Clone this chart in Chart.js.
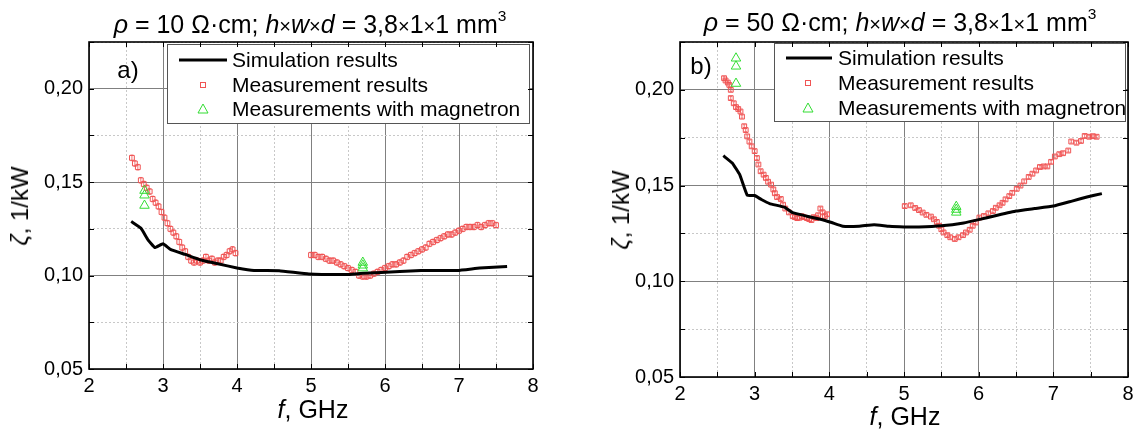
<!DOCTYPE html>
<html>
<head>
<meta charset="utf-8">
<script src="https://cdn.jsdelivr.net/npm/chart.js@4.4.0/dist/chart.umd.min.js"></script>
<style>
  html, body { margin: 0; padding: 0; background: #fff; }
  body {
    width: 1142px; height: 434px; position: relative; overflow: hidden;
    font-family: "Liberation Sans", Arial, sans-serif; color: #000;
  }
  canvas { position: absolute; top: 0; }
  .txt { position: absolute; white-space: nowrap; transform: translate(-50%, -50%); line-height: 1; }
  .title { font-size: 25px; }
  .title .tm { font-size: 0.8em; }
  .title sup { font-size: 0.62em; position: relative; top: -0.2em; }
  .xtitle { font-size: 25px; }
  .ytitle { font-size: 24px; transform: translate(-50%, -50%) rotate(-90deg); }
  .tag { font-size: 24px; }
</style>
</head>
<body>
<canvas id="chartA" width="571" height="434" style="left:0"></canvas>
<canvas id="chartB" width="571" height="434" style="left:571px"></canvas>

<div class="txt title" style="left:310px; top:24px"><i>ρ</i> = 10 Ω·cm; <i>h</i><span class="tm">×</span><i>w</i><span class="tm">×</span><i>d</i> = 3,8<span class="tm">×</span>1<span class="tm">×</span>1 mm<sup>3</sup></div>
<div class="txt title" style="left:900px; top:22px"><i>ρ</i> = 50 Ω·cm; <i>h</i><span class="tm">×</span><i>w</i><span class="tm">×</span><i>d</i> = 3,8<span class="tm">×</span>1<span class="tm">×</span>1 mm<sup>3</sup></div>
<div class="txt xtitle" style="left:313px; top:409px"><i>f</i>, GHz</div>
<div class="txt xtitle" style="left:905px; top:416px"><i>f</i>, GHz</div>
<div class="txt ytitle" style="left:20px; top:206px"><i>ζ</i>, 1/kW</div>
<div class="txt ytitle" style="left:621px; top:210px"><i>ζ</i>, 1/kW</div>
<div class="txt tag" style="left:128px; top:70px">a)</div>
<div class="txt tag" style="left:701px; top:66px">b)</div>

<script>
// tick labels
const X_LABELS = [2, 3, 4, 5, 6, 7, 8];
const Y_LABELS = [0.05, 0.10, 0.15, 0.20];

const SERIES_NAMES = ["Simulation results", "Measurement results", "Measurements with magnetron"];

// ---- panel a) rho = 10 Ohm*cm ----
const simFreqA = [2.57, 2.70, 2.80, 2.89, 3.00, 3.10, 3.30, 3.50, 3.74, 4.00, 4.23, 4.57, 4.97, 5.51, 5.70, 6.20, 6.49, 6.98, 7.28, 7.65];
const simZetaA = [0.129, 0.1254, 0.119, 0.115, 0.117, 0.114, 0.1113, 0.1085, 0.1063, 0.1041, 0.1027, 0.1026, 0.1009, 0.1006, 0.1012, 0.1022, 0.1027, 0.1027, 0.104, 0.1049];

const measFreqA = [
  2.58, 2.62, 2.66, 2.70, 2.74, 2.78, 2.82, 2.86, 2.90, 2.94, 2.98, 3.02, 3.06, 3.10, 3.14, 3.18, 3.22, 3.26,
  3.30, 3.34, 3.38, 3.42, 3.46, 3.50, 3.54, 3.58, 3.62, 3.66, 3.70, 3.74, 3.78, 3.82, 3.86, 3.90, 3.94, 3.98,
  5.00, 5.05, 5.10, 5.15, 5.20, 5.25, 5.30, 5.35, 5.40, 5.45, 5.50, 5.55, 5.60, 5.65, 5.70, 5.75, 5.80,
  5.85, 5.90, 5.95, 6.00, 6.05, 6.10, 6.15, 6.20, 6.25, 6.30, 6.35, 6.40, 6.45, 6.50, 6.55, 6.60, 6.65,
  6.70, 6.75, 6.80, 6.85, 6.90, 6.95, 7.00, 7.05, 7.10, 7.15, 7.20, 7.25, 7.30, 7.35, 7.40, 7.45, 7.50
];
const measZetaA = [
  0.163, 0.160, 0.158, 0.151, 0.149, 0.147, 0.145, 0.141, 0.139, 0.137, 0.134, 0.131, 0.128, 0.125, 0.123, 0.121, 0.118, 0.115,
  0.113, 0.110, 0.108, 0.107, 0.108, 0.107, 0.108, 0.110, 0.108, 0.109, 0.107, 0.108, 0.108, 0.110, 0.111, 0.113, 0.114, 0.112,
  0.111, 0.111, 0.110, 0.110, 0.109, 0.108, 0.108, 0.107, 0.106, 0.105, 0.104, 0.103, 0.102, 0.100, 0.0995, 0.0995, 0.100,
  0.101, 0.102, 0.103, 0.104, 0.105, 0.106, 0.106, 0.107, 0.108, 0.110, 0.111, 0.112, 0.113, 0.114, 0.115, 0.117, 0.118,
  0.119, 0.120, 0.121, 0.122, 0.122, 0.123, 0.124, 0.125, 0.126, 0.126, 0.126, 0.127, 0.126, 0.127, 0.128, 0.128, 0.127
];
const magFreqA = [2.75, 2.75, 2.75, 5.70, 5.70, 5.70];
const magZetaA = [0.1455, 0.1430, 0.1375, 0.1040, 0.1055, 0.1070];

// ---- panel b) rho = 50 Ohm*cm ----
const simFreqB = [2.58, 2.70, 2.80, 2.90, 3.00, 3.09, 3.20, 3.40, 3.50, 3.70, 3.88, 4.03, 4.18, 4.40, 4.60, 4.80, 5.00, 5.20, 5.50, 5.80, 6.00, 6.25, 6.50, 6.75, 7.00, 7.25, 7.45, 7.65];
const simZetaB = [0.1656, 0.1618, 0.1557, 0.1450, 0.1448, 0.1427, 0.1406, 0.1387, 0.1360, 0.1340, 0.1324, 0.1307, 0.1288, 0.1288, 0.1295, 0.1287, 0.1284, 0.1284, 0.1290, 0.1305, 0.1322, 0.1345, 0.1367, 0.1380, 0.1393, 0.1419, 0.1440, 0.1458];

const measFreqB = [
  2.59, 2.61, 2.64, 2.66, 2.68, 2.68, 2.72, 2.75, 2.78, 2.81, 2.83, 2.86, 2.88, 2.90, 2.93, 2.96, 3.00, 3.03, 3.05,
  3.08, 3.12, 3.15, 3.18, 3.22, 3.25, 3.27, 3.30, 3.35, 3.38, 3.41, 3.46, 3.51, 3.54, 3.57, 3.60, 3.63, 3.66, 3.70,
  3.73, 3.76, 3.79, 3.83, 3.85, 3.88, 3.91, 3.94, 3.97,
  5.01, 5.09, 5.15, 5.20, 5.25, 5.30, 5.36, 5.40, 5.44, 5.47, 5.50, 5.53, 5.58, 5.62, 5.68, 5.73, 5.79, 5.83,
  5.88, 5.92, 5.96, 6.01, 6.07, 6.13, 6.19, 6.23, 6.28, 6.32, 6.36, 6.41, 6.45, 6.51, 6.56, 6.61, 6.67, 6.72,
  6.77, 6.82, 6.87, 6.92, 6.97, 7.02, 7.08, 7.13, 7.20, 7.24, 7.31, 7.37, 7.42, 7.48, 7.53, 7.58
];
const measZetaB = [
  0.2061, 0.2049, 0.2038, 0.2026, 0.2000, 0.1957, 0.1930, 0.1910, 0.1900, 0.1887, 0.1860, 0.1810, 0.1790, 0.1757, 0.1730, 0.1705, 0.1680, 0.1644, 0.1610,
  0.1575, 0.1557, 0.1540, 0.1520, 0.1505, 0.1480, 0.1460, 0.1440, 0.1430, 0.1400, 0.1380, 0.1360, 0.1340, 0.1335, 0.1330, 0.1332, 0.1340, 0.1335, 0.1330,
  0.1325, 0.1320, 0.1335, 0.1330, 0.1345, 0.1380, 0.1360, 0.1340, 0.1350,
  0.1393, 0.1397, 0.1383, 0.1372, 0.1359, 0.1347, 0.1338, 0.1324, 0.1310, 0.1290, 0.1272, 0.1255, 0.1241, 0.1230, 0.1221, 0.1230, 0.1241, 0.1255,
  0.1269, 0.1290, 0.1307, 0.1333, 0.1341, 0.1355, 0.1367, 0.1384, 0.1397, 0.1410, 0.1428, 0.1445, 0.1462, 0.1483, 0.1500, 0.1522, 0.1545, 0.1562,
  0.1579, 0.1597, 0.1600, 0.1600, 0.1624, 0.1652, 0.1664, 0.1669, 0.1683, 0.1730, 0.1724, 0.1733, 0.1759, 0.1755, 0.1758, 0.1755
];
const magFreqB = [2.75, 2.75, 2.75, 5.70, 5.70, 5.70];
const magZetaB = [0.2165, 0.2123, 0.2033, 0.1390, 0.1375, 0.1360];

// error bar half-heights of measured points
const ERR_A = 0.0015;
const ERR_B = 0.0008;

const RED = "#f05454";
const GREEN = "#33dd33";
const FONT = "'Liberation Sans', Arial, sans-serif";

function pts(xs, ys) {
  return xs.map((x, i) => ({ x, y: ys[i] }));
}

function isLabel(list, v) {
  return list.some(l => Math.abs(l - v) < 1e-6);
}

// frame + inward tick marks on all four sides
const framePlugin = {
  id: "frame",
  afterDraw(chart) {
    const { ctx, chartArea: a, scales } = chart;
    ctx.save();
    ctx.strokeStyle = "#000";
    ctx.lineWidth = 1;
    ctx.beginPath();
    scales.x.ticks.forEach(t => {
      const px = Math.round(scales.x.getPixelForValue(t.value)) + 0.5;
      ctx.moveTo(px, a.bottom); ctx.lineTo(px, a.bottom - 5);
      ctx.moveTo(px, a.top); ctx.lineTo(px, a.top + 5);
    });
    scales.y.ticks.forEach(t => {
      const py = Math.round(scales.y.getPixelForValue(t.value)) + 0.5;
      ctx.moveTo(a.left, py); ctx.lineTo(a.left + 5, py);
      ctx.moveTo(a.right, py); ctx.lineTo(a.right - 5, py);
    });
    ctx.stroke();
    ctx.lineWidth = 1.6;
    ctx.strokeRect(a.left, a.top, a.right - a.left, a.bottom - a.top);
    ctx.restore();
  }
};

// vertical error bars on the measured points
const errorBarPlugin = {
  id: "errbars",
  afterDatasetDraw(chart, args) {
    const ds = chart.data.datasets[args.index];
    if (!ds.errorBar) return;
    const { ctx } = chart;
    const y = chart.scales.y;
    ctx.save();
    ctx.strokeStyle = ds.borderColor;
    ctx.lineWidth = 0.8;
    ctx.beginPath();
    args.meta.data.forEach((el, i) => {
      const v = ds.data[i].y;
      const top = y.getPixelForValue(v + ds.errorBar);
      const bot = y.getPixelForValue(v - ds.errorBar);
      ctx.moveTo(el.x, top); ctx.lineTo(el.x, bot);
      ctx.moveTo(el.x - 1.5, top); ctx.lineTo(el.x + 1.5, top);
      ctx.moveTo(el.x - 1.5, bot); ctx.lineTo(el.x + 1.5, bot);
    });
    ctx.stroke();
    ctx.restore();
  }
};

// framed legend inside the plot
const boxLegendPlugin = {
  id: "boxLegend",
  afterDraw(chart, args, o) {
    const { ctx } = chart;
    ctx.save();
    ctx.fillStyle = "#fff";
    ctx.fillRect(o.x, o.y, o.w, o.h);
    ctx.strokeStyle = "#555";
    ctx.lineWidth = 1;
    ctx.strokeRect(o.x + 0.5, o.y + 0.5, o.w, o.h);
    ctx.font = "21px " + FONT;
    ctx.textBaseline = "middle";
    SERIES_NAMES.forEach((name, i) => {
      const cy = o.y + o.rows[i];
      const mx = o.x + o.marker;
      if (i === 0) {
        ctx.strokeStyle = "#000";
        ctx.lineWidth = 3;
        ctx.beginPath();
        ctx.moveTo(o.x + o.line[0], cy); ctx.lineTo(o.x + o.line[1], cy);
        ctx.stroke();
      } else if (i === 1) {
        ctx.strokeStyle = RED;
        ctx.lineWidth = 1;
        ctx.strokeRect(mx - 2.5, cy - 2.5, 5, 5);
      } else {
        ctx.strokeStyle = GREEN;
        ctx.lineWidth = 1;
        ctx.beginPath();
        ctx.moveTo(mx, cy - 5); ctx.lineTo(mx + 5, cy + 4); ctx.lineTo(mx - 5, cy + 4); ctx.closePath();
        ctx.stroke();
      }
      ctx.fillStyle = "#000";
      ctx.fillText(name, o.x + o.text, cy + 1);
    });
    ctx.restore();
  }
};

function makeChart(id, d, L) {
  const majorX = c => c.tick && isLabel(X_LABELS, c.tick.value);
  const majorY = c => c.tick && isLabel(Y_LABELS, c.tick.value);
  return new Chart(document.getElementById(id), {
    type: "scatter",
    data: {
      datasets: [
        {
          label: SERIES_NAMES[2],
          data: pts(d.magX, d.magY),
          pointStyle: "triangle",
          pointRadius: 5.5,
          borderColor: GREEN,
          backgroundColor: "rgba(0,0,0,0)",
          borderWidth: 1
        },
        {
          label: SERIES_NAMES[0],
          data: pts(d.simX, d.simY),
          showLine: true,
          pointRadius: 0,
          borderColor: "#000",
          borderWidth: 3,
          tension: 0.1
        },
        {
          label: SERIES_NAMES[1],
          data: pts(d.measX, d.measY),
          pointStyle: "rect",
          pointRadius: 3.4,
          borderColor: RED,
          backgroundColor: "rgba(0,0,0,0)",
          borderWidth: 1,
          errorBar: d.err
        }
      ]
    },
    options: {
      responsive: false,
      animation: false,
      events: [],
      layout: { padding: { top: L.top, right: L.right, bottom: 0, left: 0 } },
      plugins: {
        legend: { display: false },
        tooltip: { enabled: false },
        boxLegend: L.legend
      },
      scales: {
        x: {
          type: "linear",
          min: 2,
          max: 8,
          afterFit: s => { s.height = L.xh; },
          ticks: {
            stepSize: 0.5,
            autoSkip: false,
            maxRotation: 0,
            padding: 5,
            color: "#000",
            font: { family: FONT, size: 20 },
            callback: v => (isLabel(X_LABELS, v) ? String(Math.round(v)) : "")
          },
          grid: {
            drawTicks: false,
            color: c => (majorX(c) ? "#808080" : "#c8c8c8"),
            lineWidth: 1
          },
          border: { display: false, dash: c => (majorX(c) ? [] : [2, 2]) }
        },
        y: {
          type: "linear",
          min: 0.05,
          max: 0.225,
          afterFit: s => { s.width = L.yw; },
          ticks: {
            stepSize: 0.025,
            autoSkip: false,
            padding: 6,
            color: "#000",
            font: { family: FONT, size: 20 },
            callback: v => (isLabel(Y_LABELS, v) ? v.toFixed(2).replace(".", ",") : "")
          },
          grid: {
            drawTicks: false,
            color: c => (majorY(c) ? "#808080" : "#c8c8c8"),
            lineWidth: 1
          },
          border: { display: false, dash: c => (majorY(c) ? [] : [2, 2]) }
        }
      }
    },
    plugins: [errorBarPlugin, boxLegendPlugin, framePlugin]
  });
}

document.addEventListener("DOMContentLoaded", () => {
  makeChart("chartA",
    { simX: simFreqA, simY: simZetaA, measX: measFreqA, measY: measZetaA, magX: magFreqA, magY: magZetaA, err: ERR_A },
    { top: 42, right: 38, xh: 65, yw: 89,
      legend: { x: 167, y: 44, w: 362, h: 79, rows: [16, 41, 65], line: [12, 60], marker: 36, text: 65 } });

  makeChart("chartB",
    { simX: simFreqB, simY: simZetaB, measX: measFreqB, measY: measZetaB, magX: magFreqB, magY: magZetaB, err: ERR_B },
    { top: 42, right: 14, xh: 57, yw: 109,
      legend: { x: 203, y: 43, w: 351, h: 78, rows: [15, 40, 65], line: [12, 58], marker: 34, text: 64 } });
});
</script>
</body>
</html>
